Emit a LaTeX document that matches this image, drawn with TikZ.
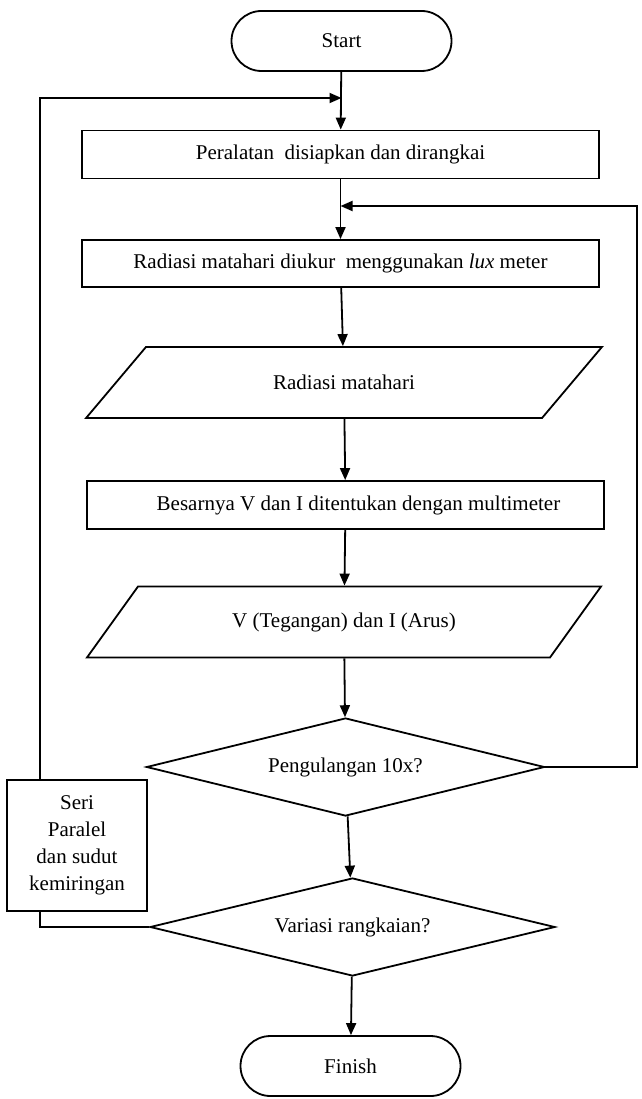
\documentclass[tikz,border=0pt]{standalone}
\usepackage{fontspec}
\setmainfont{Liberation Serif}
\usetikzlibrary{shapes.geometric,arrows.meta}

\tikzset{
    process/.style={draw, rectangle, minimum width=517pt, minimum height=48pt, inner sep=0pt},
    terminal/.style={draw, rectangle, rounded corners=30pt, minimum width=220pt, minimum height=60pt},
    inout/.style={draw, trapezium, trapezium left angle=34.6, trapezium right angle=145.4,
        trapezium stretches=true, minimum width=516pt, minimum height=71pt, inner sep=0pt},
    decision/.style={draw, diamond, aspect=4.06, minimum width=398pt, minimum height=98pt, inner sep=0pt},
    flow/.style={-{Triangle[length=12pt,width=10pt]}}
}

\begin{document}
\begin{tikzpicture}[x=1pt, y=-1pt, line width=1.8pt, font=\fontsize{21}{27}\selectfont]
    \useasboundingbox (0,0) rectangle (641,1099);
    \node[terminal] (start) at (341.5,41) {Start};
    \node[process] (prep) at (340.5,154.5) {Peralatan\ \ disiapkan dan dirangkai};
    \node[process, minimum height=47pt] (lux) at (340.5,263.5) {Radiasi matahari diukur\ \ menggunakan \textit{lux} meter};
    \node[inout] (rad) at (344,382.5) {Radiasi matahari};
    \node[process] (meas) at (345.5,505) {\hspace{26pt}Besarnya V dan I ditentukan dengan multimeter};
    \node[inout] (vi) at (344,622) {V (Tegangan) dan I (Arus)};
    \node[decision] (rep) at (345.5,767) {Pengulangan 10x?};
    \node[decision, minimum width=405pt] (var) at (352.5,927) {Variasi rangkaian?};
    \node[terminal] (finish) at (350.5,1066) {Finish};
    \node[draw, align=center, minimum width=140pt, minimum height=131pt, inner sep=0pt] (mode) at (77,845.5)
        {Seri\\Paralel\\dan sudut\\kemiringan};
    \coordinate (leftx) at (40,98);
    \coordinate (rightx) at (637,206);
    \draw[flow] (start) -- (prep);
    \draw[flow] (prep) -- (lux);
    \draw[flow] (lux) -- (rad);
    \draw[flow] (rad) -- (meas);
    \draw[flow] (meas) -- (vi);
    \draw[flow] (vi) -- (rep);
    \draw[flow] (rep) -- (var);
    \draw[flow] (var) -- (finish);
    \draw (var.west) -| (mode.south -| leftx);
    \draw[flow] (mode.north -| leftx) |- (start.south |- leftx);
    \draw[flow] (rep.east) -| (rightx) -- (prep.south |- rightx);
\end{tikzpicture}
\end{document}
